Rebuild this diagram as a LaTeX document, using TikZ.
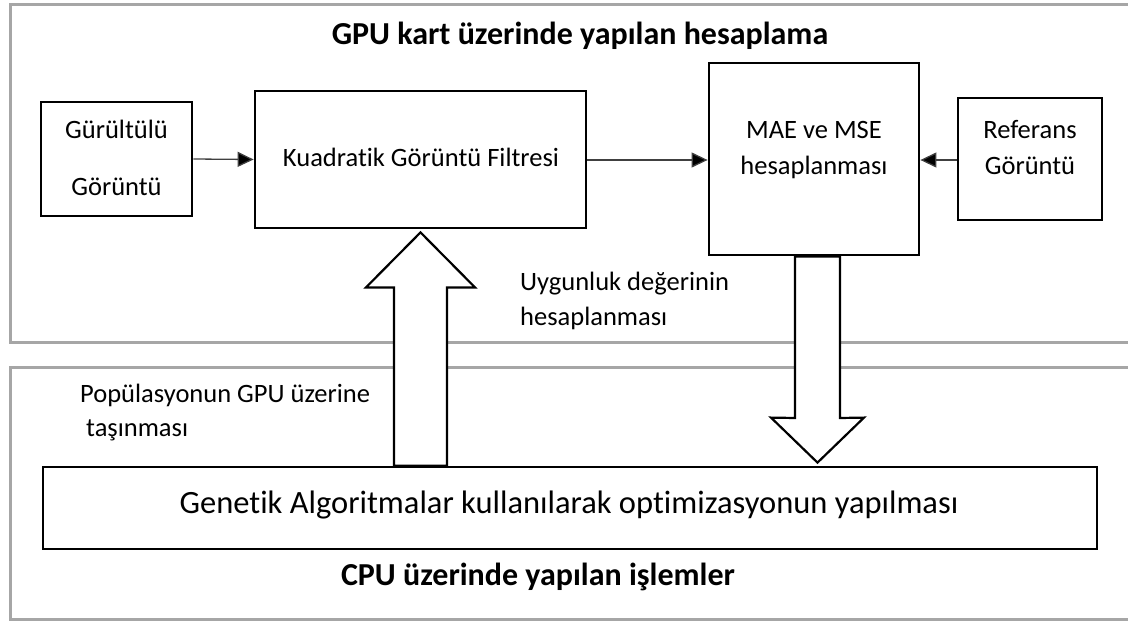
\documentclass[tikz,border=0pt]{standalone}
\usepackage{fontspec}
\setmainfont{Carlito}[Ligatures={NoCommon}]
\usetikzlibrary{arrows.meta,calc}
\definecolor{framegray}{HTML}{A6A6A6}
\definecolor{conngray}{HTML}{404040}
\begin{document}
\begin{tikzpicture}[x=1pt,y=-1pt,
  frame/.style={draw=framegray,line width=3pt},
  box/.style={draw=black,line width=2.8pt,fill=white,inner sep=0pt},
  txt/.style={font=\fontsize{26.5}{36}\selectfont,inner sep=0pt},
  ttl/.style={font=\fontsize{32}{36}\selectfont\bfseries,inner sep=0pt},
  conn/.style={line width=1.3pt,draw=conngray,-{Triangle[length=16pt,width=15pt,fill=black]}},
  blk/.style={draw=black,line width=2.2pt,fill=white,line join=miter}]
\useasboundingbox (0,0) rectangle (1128,621);
\clip (0,0) rectangle (1128,621);
% frames
\draw[frame] (1140,4.5) -- (10.5,4.5) -- (10.5,342) -- (1140,342);
\draw[frame] (1140,367.5) -- (10.5,367.5) -- (10.5,619) -- (1140,619);
% boxes
\node[box,minimum width=151pt,minimum height=114pt] (noisy) at (116.5,159) {};
\node[box,minimum width=331pt,minimum height=137pt] (kuad) at (420.5,159.5) {};
\node[box,minimum width=210pt,minimum height=192pt] (mae) at (814,159) {};
\node[box,minimum width=144pt,minimum height=122pt] (ref) at (1030,159) {};
\node[box,minimum width=1054pt,minimum height=82pt] (ga) at (570,508) {};
% texts (multi-line nodes: base = last line)
\node[txt,align=center,anchor=base,font=\fontsize{26.5}{57}\selectfont] (noisytxt) at (116.5,195) {Gürültülü\\Görüntü};
\node[txt,anchor=base] (kuadtxt) at (421,166.7) {Kuadratik Görüntü Filtresi};
\node[txt,align=center,anchor=base] (maetxt) at (814,174) {MAE ve MSE\\hesaplanması};
\node[txt,align=center,anchor=base] (reftxt) at (1030,174) {Referans\\Görüntü};
\node[txt,font=\fontsize{32.5}{36}\selectfont,anchor=base] (gatxt) at (569,513) {Genetik Algoritmalar kullanılarak optimizasyonun yapılması};
\node[ttl,anchor=base] (gputitle) at (580,44.3) {GPU kart üzerinde yapılan hesaplama};
\node[ttl,anchor=base] (cputitle) at (538,585) {CPU üzerinde yapılan işlemler};
\node[txt,align=left,anchor=base west,font=\fontsize{26.5}{34.3}\selectfont] (fitlbl) at (520,325) {Uygunluk değerinin\\hesaplanması};
\node[txt,align=left,anchor=base west,font=\fontsize{26.5}{33.3}\selectfont] (poplbl) at (80,436) {Popülasyonun GPU üzerine\\\hspace*{6pt}taşınması};
% connectors
\draw[conn] (noisy.east) -- (kuad.west);
\draw[conn] (kuad.east |- 0,160) -- (mae.west |- 0,160);
\draw[conn] (ref.west |- 0,160) -- (mae.east |- 0,160);
% block arrows
\coordinate (uptip) at ($(kuad.south)+(0,3)$);
\coordinate (upR) at ($(uptip)+(26.5,55)$);
\coordinate (upL) at ($(uptip)+(-26.5,55)$);
\draw[blk] (uptip) -- ++(54.5,55) -- (upR) -- (upR |- ga.north) -- (upL |- ga.north) -- (upL) -- ($(uptip)+(-54.5,55)$) -- cycle;
\coordinate (dnR) at ($(mae.south)+(26,0)$);
\coordinate (dnL) at ($(mae.south)+(-19,0)$);
\coordinate (dntip) at ($(ga.north)+(247.5,-3)$);
\draw[blk] (dnL) -- (dnR) -- (dnR |- 0,418) -- ($(dntip)+(46.5,-45)$) -- (dntip) -- ($(dntip)+(-46.5,-45)$) -- (dnL |- 0,418) -- cycle;
\end{tikzpicture}
\end{document}
